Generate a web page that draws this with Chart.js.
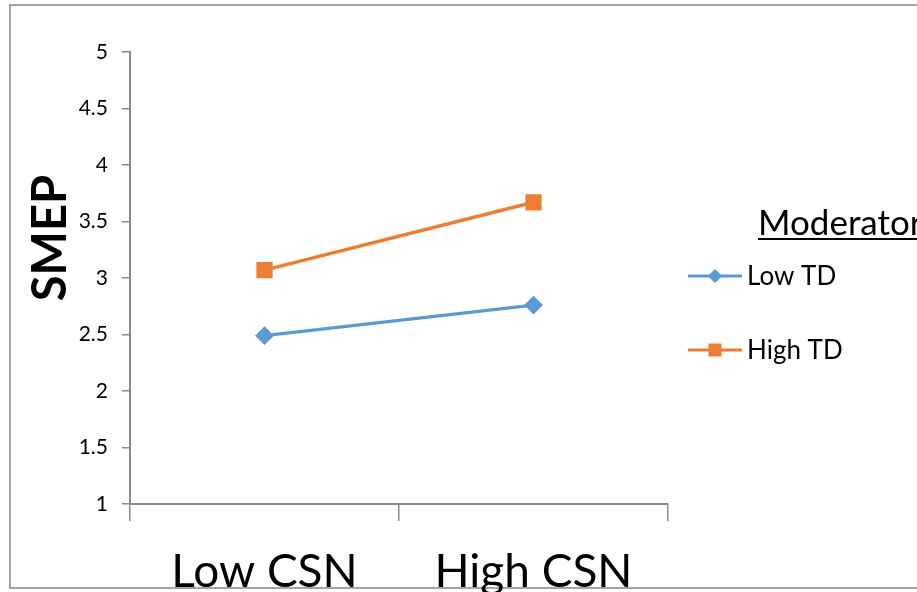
<!DOCTYPE html>
<html>
<head>
<meta charset="utf-8">
<script src="https://cdn.jsdelivr.net/npm/chart.js@4"></script>
<style>
  html, body { margin: 0; padding: 0; background: #fff; }
  #wrap { position: relative; width: 917px; height: 592px; overflow: hidden; }
  #frame { position: absolute; left: 9px; top: 4px; width: 1000px; height: 585px; border: 2px solid #a3a3a3; box-sizing: border-box; }
  canvas { position: absolute; left: 0; top: 0; }
</style>
</head>
<body>
<div id="wrap">
  <div id="frame"></div>
  <canvas id="chart" width="917" height="592"></canvas>
</div>
<script>
const FONT = "Lato, 'DejaVu Sans', sans-serif";

// ---------- data ----------
const categories = ["Low CSN", "High CSN"];
const seriesNames = ["Low TD", "High TD"];
const lowTD = [2.49, 2.76];
const highTD = [3.07, 3.67];
const yMin = 1;
const yMax = 5;
const yStep = 0.5;
const axisTitle = "SMEP";
const legendTitle = "Moderator";

const BLUE = "#5B9BD5";
const ORANGE = "#ED7D31";
const AXIS = "#8a8a8a";

// draws the y title + the "Moderator" legend on the right
const extras = {
  id: "extras",
  afterDraw(chart) {
    const ctx = chart.ctx;
    ctx.save();

    // y axis title
    ctx.fillStyle = "#000";
    ctx.font = `bold 47px ${FONT}`;
    ctx.textAlign = "center";
    ctx.textBaseline = "middle";
    ctx.translate(51, 238);
    ctx.rotate(-Math.PI / 2);
    ctx.fillText(axisTitle, 0, 0);
    ctx.setTransform(1, 0, 0, 1, 0, 0);

    // legend title, underlined
    ctx.font = `35px ${FONT}`;
    ctx.textAlign = "left";
    ctx.textBaseline = "alphabetic";
    ctx.fillText(legendTitle, 758, 235);
    const w = ctx.measureText(legendTitle).width;
    ctx.fillRect(758, 238, w, 2);

    // legend items
    const rows = [276, 350];
    chart.data.datasets.forEach((ds, i) => {
      const y = rows[i];
      ctx.strokeStyle = ds.borderColor;
      ctx.lineWidth = 3;
      ctx.beginPath();
      ctx.moveTo(688, y);
      ctx.lineTo(742, y);
      ctx.stroke();

      ctx.fillStyle = ds.pointBackgroundColor;
      if (ds.pointStyle === "rect") {
        ctx.fillRect(715 - 6.5, y - 6.5, 13, 13);
      } else {
        ctx.beginPath();
        ctx.moveTo(715, y - 7);
        ctx.lineTo(722, y);
        ctx.lineTo(715, y + 7);
        ctx.lineTo(708, y);
        ctx.closePath();
        ctx.fill();
      }

      ctx.fillStyle = "#000";
      ctx.font = `26px ${FONT}`;
      ctx.textBaseline = "middle";
      ctx.fillText(ds.label, 747, y + 1);
    });

    ctx.restore();
  },
};

new Chart(document.getElementById("chart"), {
  type: "line",
  data: {
    labels: categories,
    datasets: [
      {
        label: seriesNames[0],
        data: lowTD,
        borderColor: BLUE,
        backgroundColor: BLUE,
        pointBackgroundColor: BLUE,
        pointBorderColor: BLUE,
        pointStyle: "rectRot",
        pointRadius: 7,
        borderWidth: 3.5,
      },
      {
        label: seriesNames[1],
        data: highTD,
        borderColor: ORANGE,
        backgroundColor: ORANGE,
        pointBackgroundColor: ORANGE,
        pointBorderColor: ORANGE,
        pointStyle: "rect",
        pointRadius: 9,
        borderWidth: 3.5,
      },
    ],
  },
  options: {
    responsive: false,
    animation: false,
    layout: { padding: { left: 10, top: 52, right: 249, bottom: 0 } },
    plugins: {
      legend: { display: false },
      tooltip: { enabled: false },
    },
    scales: {
      x: {
        offset: true,
        grid: { offset: true, drawOnChartArea: false, drawTicks: true, tickLength: 17, color: AXIS, lineWidth: 1.5 },
        border: { color: AXIS, width: 2 },
        ticks: { color: "#000", font: { family: FONT, size: 46 }, padding: 24, maxRotation: 0 },
        afterFit(s) { s.height = 88; },
      },
      y: {
        min: yMin,
        max: yMax,
        grid: { drawOnChartArea: false, drawTicks: true, tickLength: 8, color: AXIS, lineWidth: 1.5 },
        border: { color: AXIS, width: 2 },
        ticks: {
          stepSize: yStep,
          color: "#000",
          font: { family: FONT, size: 21 },
          padding: 14,
          callback: (v) => String(+Number(v).toFixed(1)),
        },
        afterFit(s) { s.width = 120; },
      },
    },
  },
  plugins: [extras],
});
</script>
</body>
</html>
